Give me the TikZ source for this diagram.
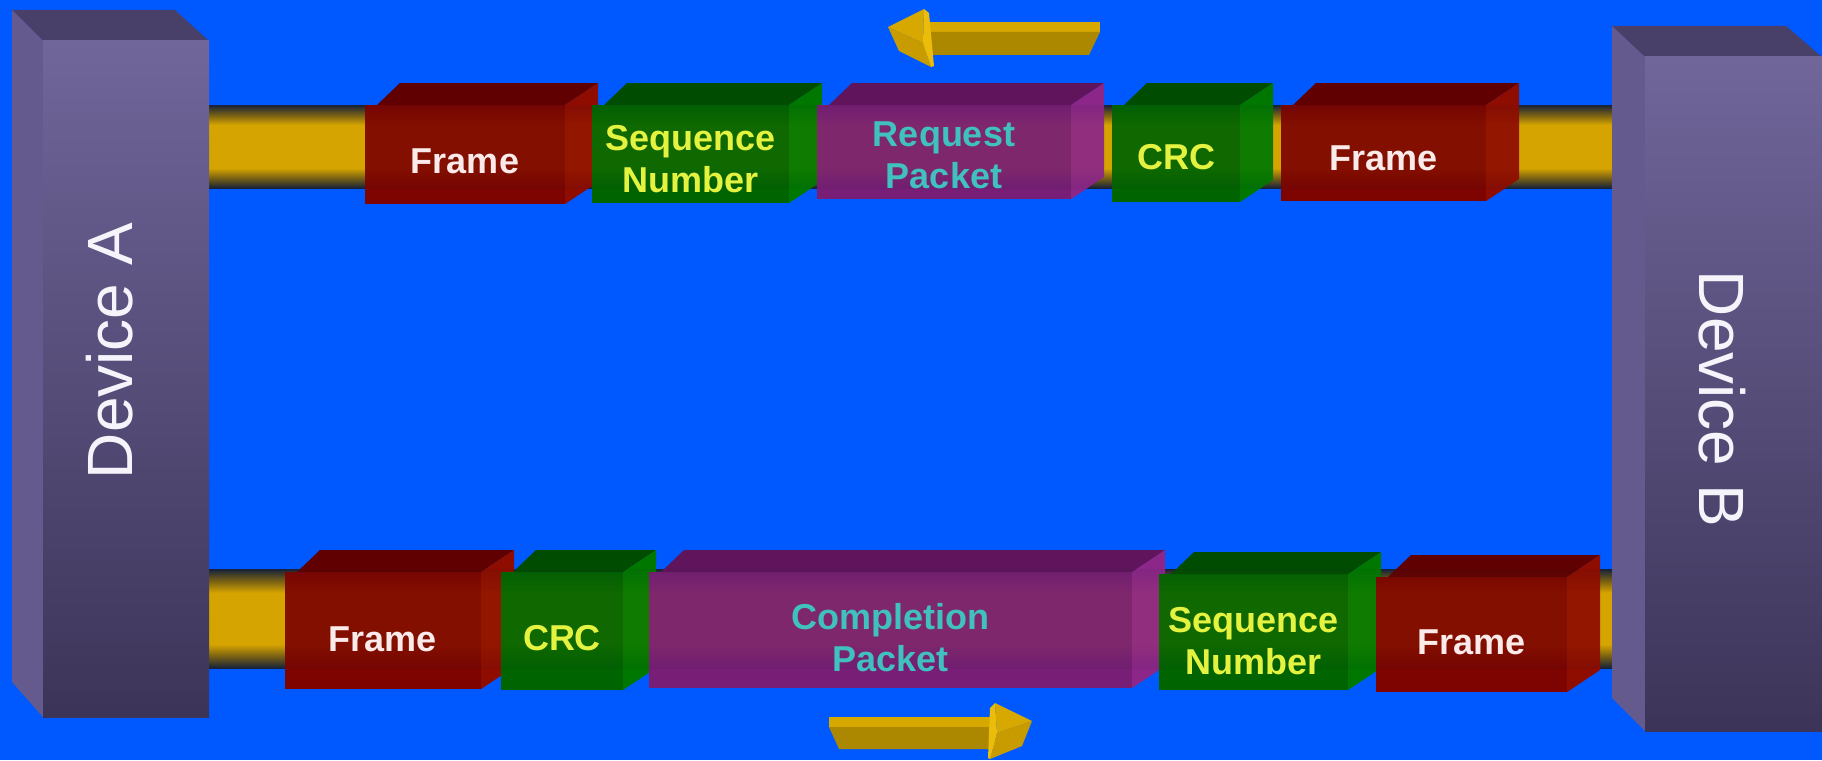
\documentclass[tikz,border=0pt]{standalone}
\usepackage{fontspec}
\setmainfont{Liberation Sans}
\usetikzlibrary{calc}
\definecolor{bg}{RGB}{0,88,255}
\definecolor{devTop}{RGB}{72,64,104}
\definecolor{devSide}{RGB}{100,90,142}
\definecolor{devFrontTop}{RGB}{112,102,154}
\definecolor{devFrontBot}{RGB}{60,52,88}
\definecolor{tubeDark}{RGB}{22,34,58}
\definecolor{tubeMid}{RGB}{120,96,20}
\definecolor{tubeGold}{RGB}{214,164,0}
\definecolor{redF}{RGB}{125,4,0}
\definecolor{redT}{RGB}{96,0,0}
\definecolor{redS}{RGB}{142,12,0}
\definecolor{redX}{RGB}{250,234,234}
\definecolor{grnF}{RGB}{0,100,0}
\definecolor{grnT}{RGB}{0,76,0}
\definecolor{grnS}{RGB}{0,120,0}
\definecolor{grnX}{RGB}{228,242,64}
\definecolor{purF}{RGB}{120,30,118}
\definecolor{purT}{RGB}{96,20,92}
\definecolor{purS}{RGB}{140,38,136}
\definecolor{purX}{RGB}{64,192,190}
\definecolor{arrL}{RGB}{214,168,0}
\definecolor{arrM}{RGB}{200,156,0}
\definecolor{arrD}{RGB}{172,136,0}
\definecolor{arrE}{RGB}{236,188,10}
\pgfdeclareverticalshading{tubeshade}{100bp}{color(0bp)=(tubeDark); color(25bp)=(tubeDark); color(31bp)=(tubeMid); color(37bp)=(tubeGold); color(63bp)=(tubeGold); color(69bp)=(tubeMid); color(75bp)=(tubeDark); color(100bp)=(tubeDark)}
\tikzset{
  face/.style={draw=none, inner sep=0pt, outer sep=0pt},
  lbl/.style={font=\fontsize{36}{42}\selectfont\bfseries, align=center, inner sep=0pt},
  devlbl/.style={font=\fontsize{64}{70}\selectfont, text={rgb,255:red,245;green,244;blue,250}, inner sep=0pt},
  tube/.style={shading=tubeshade},
  devfront/.style={face, top color=devFrontTop, bottom color=devFrontBot},
}
\newcommand\pkt[6]{%
  \node[face, fill=#6F, minimum width=#4pt, minimum height=#5pt] (#1) at (#2,#3) {};
  \fill[#6T] ($(#1.north west)+(12pt,0pt)$) -- ($(#1.north west)+(35pt,22pt)$) -- ($(#1.north east)+(33pt,22pt)$) -- (#1.north east) -- cycle;
  \fill[#6S] (#1.north east) -- ($(#1.north east)+(33pt,22pt)$) -- ($(#1.south east)+(33pt,22pt)$) -- (#1.south east) -- cycle;
}
\begin{document}
\begin{tikzpicture}[x=1pt, y=-1pt]
\fill[bg] (0,0) rectangle (1822,760);
\useasboundingbox (0,0) rectangle (1822,760);

% tubes
\shade[tube] (209,105) rectangle (1612,188);
\shade[tube] (209,569) rectangle (1612,668);

% Device A
\fill[devTop] (12,10) -- (175,10) -- (209,41) -- (43,41) -- cycle;
\fill[devSide] (12,10) -- (43,41) -- (43,717) -- (12,682) -- cycle;
\node[devfront, minimum width=166pt, minimum height=676pt] (devA) at (126,379) {};
\node[devlbl, rotate=90] (devAt) at (110,351) {Device A};

% Device B
\fill[devTop] (1612,26) -- (1786,26) -- (1822,57) -- (1645,57) -- cycle;
\fill[devSide] (1612,26) -- (1645,57) -- (1645,731) -- (1612,698) -- cycle;
\node[devfront, minimum width=177pt, minimum height=674pt] (devB) at (1733.5,394) {};
\node[devlbl, rotate=-90] (devBt) at (1722,399) {Device B};

% top row
\pkt{tf1}{465}{154.5}{200}{99}{red}
\pkt{tsn}{690.5}{154}{197}{98}{grn}
\pkt{trp}{944}{152}{254}{94}{pur}
\pkt{tcrc}{1176}{153.5}{128}{97}{grn}
\pkt{tf2}{1383.5}{153}{205}{96}{red}

% bottom row
\pkt{bf1}{383}{630.5}{196}{117}{red}
\pkt{bcrc}{562}{631}{122}{118}{grn}
\pkt{bcp}{890.5}{630}{483}{116}{pur}
\pkt{bsn}{1253.5}{632}{189}{116}{grn}
\pkt{bf2}{1471.5}{634.5}{191}{115}{red}

% tube seen faintly through the translucent packets
\shade[tube, opacity=0.07] (209,105) rectangle (1612,188);
\shade[tube, opacity=0.07] (209,569) rectangle (1612,668);

% labels
\node[lbl, text=redX] (tf1t) at ($(tf1.center)+(0,-7pt)$) {Frame};
\node[lbl, text=grnX] (tsnt) at ($(tsn.center)+(0,-5pt)$) {Sequence\\Number};
\node[lbl, text=purX] (trpt) at ($(trp.center)+(0,-3pt)$) {Request\\Packet};
\node[lbl, text=grnX] (tcrct) at ($(tcrc.center)+(0,-4pt)$) {CRC};
\node[lbl, text=redX] (tf2t) at ($(tf2.center)+(0,-5pt)$) {Frame};

\node[lbl, text=redX] (bf1t) at ($(bf1.center)+(0,-9pt)$) {Frame};
\node[lbl, text=grnX] (bcrct) at ($(bcrc.center)+(0,-7pt)$) {CRC};
\node[lbl, text=purX] (bcpt) at ($(bcp.center)+(0,-8pt)$) {Completion\\Packet};
\node[lbl, text=grnX] (bsnt) at ($(bsn.center)+(0,-9pt)$) {Sequence\\Number};
\node[lbl, text=redX] (bf2t) at ($(bf2.center)+(0,-8pt)$) {Frame};

% top arrow (pointing left)
\fill[arrL] (924,22) -- (1100,22) -- (1100,32) -- (924,32) -- cycle;
\fill[arrD] (924,32) -- (1100,32) -- (1089,55) -- (924,55) -- cycle;
\fill[arrM] (888,27) -- (923,43) -- (931,67) -- (899,51) -- cycle;
\fill[arrL] (888,27) -- (924,9) -- (923,43) -- cycle;
\fill[arrE] (924,9) -- (929,13) -- (934,66) -- (931,67) -- (923,43) -- cycle;

% bottom arrow (pointing right)
\fill[arrL] (829,717) -- (995,717) -- (995,727) -- (829,727) -- cycle;
\fill[arrD] (829,727) -- (995,727) -- (995,749) -- (839,749) -- cycle;
\fill[arrM] (1032,721) -- (997,733) -- (990,759) -- (1022,746) -- cycle;
\fill[arrL] (1032,721) -- (995,703) -- (997,733) -- cycle;
\fill[arrE] (995,703) -- (990,708) -- (988,758) -- (990,759) -- (997,733) -- cycle;
\end{tikzpicture}
\end{document}
